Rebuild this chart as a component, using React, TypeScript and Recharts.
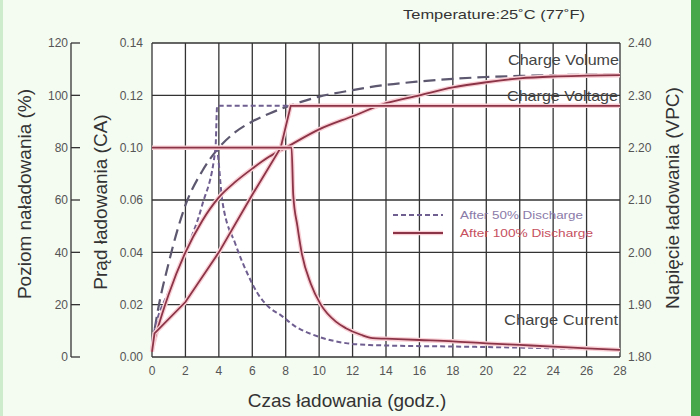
import React from "react";
import { CartesianGrid, ComposedChart, Line, XAxis, YAxis } from "recharts";

const FONT = '"Liberation Sans", Arial, sans-serif';

// axis ticks
const HOUR_TICKS = [0, 2, 4, 6, 8, 10, 12, 14, 16, 18, 20, 22, 24, 26, 28];
const PCT_TICKS = [0, 20, 40, 60, 80, 100, 120];
const CA_TICKS = [0, 0.02, 0.04, 0.06, 0.08, 0.1, 0.12];
const CA_TICK_LABELS = ["0.00", "0.02", "0.04", "0.06", "0.10", "0.12", "0.14"];
const VPC_TICKS = [1.8, 1.9, 2.0, 2.1, 2.2, 2.3, 2.4];

// charge volume (%)
const VOL_HOURS = [0, 0.3, 1, 2, 3, 4, 5, 6, 7, 8, 10, 12, 14, 16, 18, 20, 22, 24, 26, 28];
const VOL_50 = [4, 16, 36, 58, 71, 80, 86, 90, 93, 95.5, 99.5, 102, 104, 105.3, 106.3, 107, 107.4, 107.7, 107.9, 108];
const VOL_100 = [3, 10, 24, 40, 52, 61, 67, 72, 76.5, 80, 87, 92, 97, 100, 103, 105, 106.5, 107.2, 107.5, 107.7];

// charge voltage (V/cell)
const VOLT_50_HOURS = [0, 0.3, 1, 2, 3, 3.8, 3.9, 28];
const VOLT_50 = [1.83, 1.87, 1.925, 2.0, 2.09, 2.2, 2.28, 2.28];
const VOLT_100_HOURS = [0, 0.15, 2, 4, 6, 7.7, 8.3, 28];
const VOLT_100 = [1.81, 1.845, 1.905, 2.0, 2.11, 2.2, 2.28, 2.28];

// charge current (CA)
const CUR_50_HOURS = [0, 3.85, 4.2, 5, 5.7, 6.35, 7, 7.7, 8.5, 10, 11.6, 13, 14, 18, 22, 25, 28];
const CUR_50 = [0.08, 0.08, 0.06, 0.043, 0.032, 0.024, 0.019, 0.016, 0.012, 0.0077, 0.0053, 0.0046, 0.0044, 0.004, 0.0036, 0.0032, 0.0028];
const CUR_100_HOURS = [0, 8.35, 8.45, 8.7, 8.95, 9.5, 10.1, 11, 11.6, 12.5, 13.2, 14, 16, 18, 20, 22, 24, 26, 28];
const CUR_100 = [0.08, 0.08, 0.062, 0.05, 0.04, 0.028, 0.02, 0.0135, 0.011, 0.0085, 0.0072, 0.007, 0.0065, 0.006, 0.0052, 0.0046, 0.004, 0.0033, 0.0027];

const rows = (hours: number[], values: number[]) => hours.map((t, i) => ({ t, v: values[i] }));

const RED = "#8c3447";
const HALO = "#f9d0d6";
const PURPLE = "#6f5e90";
const GREY = "#5d5870";

const tickStyle = { fill: "#555", fontSize: 12, fontFamily: FONT };

function PctTick(props: any) {
  const { x, y, payload } = props;
  return (
    <g>
      <text x={x} y={y} dy="0.35em" textAnchor="end" {...tickStyle}>
        {payload.value}
      </text>
      <line x1={x + 3} x2={x + 12} y1={y} y2={y} stroke="#333" strokeWidth={1.3} />
    </g>
  );
}

function RotTitle({ x, y, text }: { x: number; y: number; text: string }) {
  return (
    <text
      x={x}
      y={y}
      transform={`rotate(-90 ${x} ${y})`}
      textAnchor="middle"
      dominantBaseline="central"
      fontSize={19}
      fill="#333"
      fontFamily={FONT}
    >
      {text}
    </text>
  );
}

export default function App() {
  const solid = (data: any[], axis: string, curve: "monotone" | "linear" = "monotone") => [
    <Line key={axis + "h"} data={data} dataKey="v" yAxisId={axis} type={curve} stroke={HALO} strokeWidth={4.5} dot={false} isAnimationActive={false} />,
    <Line key={axis + "s"} data={data} dataKey="v" yAxisId={axis} type={curve} stroke={RED} strokeWidth={1.8} dot={false} isAnimationActive={false} />,
  ];

  return (
    <div
      style={{
        position: "fixed",
        left: 0,
        top: 0,
        width: 700,
        height: 416,
        background: "#f4fbf1",
        overflow: "hidden",
        fontFamily: FONT,
      }}
    >
      <ComposedChart
        width={700}
        height={416}
        margin={{ top: 43, right: 0, bottom: 0, left: 0 }}
        style={{ position: "absolute", left: 0, top: 0 }}
      >
        <CartesianGrid yAxisId="pct" stroke="#333" strokeWidth={1.3} fill="#fff" fillOpacity={1} />
        <XAxis
          type="number"
          dataKey="t"
          domain={[0, 28]}
          ticks={HOUR_TICKS}
          height={59}
          axisLine={false}
          tickLine={false}
          tickSize={0}
          tickMargin={9}
          tick={tickStyle}
        />
        <YAxis
          yAxisId="ca"
          width={81}
          domain={[0, 0.12]}
          ticks={CA_TICKS}
          tickFormatter={(_v: number, i: number) => CA_TICK_LABELS[i]}
          axisLine={false}
          tickLine={false}
          tickSize={0}
          tickMargin={9}
          tick={tickStyle}
        />
        <YAxis
          yAxisId="pct"
          width={71}
          domain={[0, 120]}
          ticks={PCT_TICKS}
          axisLine={{ stroke: "#333", strokeWidth: 1.3 }}
          tickLine={false}
          tickSize={0}
          tickMargin={3}
          tick={<PctTick />}
        />
        <YAxis
          yAxisId="v"
          orientation="right"
          width={80}
          domain={[1.8, 2.4]}
          ticks={VPC_TICKS}
          tickFormatter={(v: number) => v.toFixed(2)}
          axisLine={false}
          tickLine={false}
          tickSize={0}
          tickMargin={8}
          tick={tickStyle}
        />

        {/* 50% discharge */}
        <Line data={rows(VOL_HOURS, VOL_50)} dataKey="v" yAxisId="pct" type="monotone" stroke={GREY} strokeWidth={2.2} strokeDasharray="12 6" dot={false} isAnimationActive={false} />
        <Line data={rows(VOLT_50_HOURS, VOLT_50)} dataKey="v" yAxisId="v" type="monotone" stroke={PURPLE} strokeWidth={2} strokeDasharray="5 3" dot={false} isAnimationActive={false} />
        <Line data={rows(CUR_50_HOURS, CUR_50)} dataKey="v" yAxisId="ca" type="monotone" stroke={PURPLE} strokeWidth={2} strokeDasharray="5 3" dot={false} isAnimationActive={false} />

        {/* 100% discharge */}
        {solid(rows(VOL_HOURS, VOL_100), "pct")}
        {solid(rows(VOLT_100_HOURS, VOLT_100), "v", "linear")}
        {solid(rows(CUR_100_HOURS, CUR_100), "ca")}
      </ComposedChart>

      <svg width={700} height={416} style={{ position: "absolute", left: 0, top: 0, pointerEvents: "none" }}>
        <text x={403} y={19} fontSize={13} fill="#333" textLength={182} lengthAdjust="spacingAndGlyphs">
          Temperature:25˚C (77˚F)
        </text>
        <text x={508} y={65} fontSize={15} fill="#444" textLength={111} lengthAdjust="spacingAndGlyphs">
          Charge Volume
        </text>
        <text x={507} y={101} fontSize={15} fill="#444" textLength={111} lengthAdjust="spacingAndGlyphs">
          Charge Voltage
        </text>
        <text x={504} y={325} fontSize={15} fill="#444" textLength={114} lengthAdjust="spacingAndGlyphs">
          Charge Current
        </text>

        {/* legend */}
        <line x1={393} x2={443} y1={215} y2={215} stroke={PURPLE} strokeWidth={2} strokeDasharray="5 3" />
        <line x1={393} x2={443} y1={233} y2={233} stroke={HALO} strokeWidth={4.5} />
        <line x1={393} x2={443} y1={233} y2={233} stroke={RED} strokeWidth={1.8} />
        <text x={460} y={219} fontSize={11} fill="#8a7aa8" textLength={123} lengthAdjust="spacingAndGlyphs">
          After 50% Discharge
        </text>
        <text x={460} y={237} fontSize={11} fill="#c6505e" textLength={133} lengthAdjust="spacingAndGlyphs">
          After 100% Discharge
        </text>

        <RotTitle x={24} y={194} text="Poziom naładowania (%)" />
        <RotTitle x={100} y={202} text="Prąd ładowania (CA)" />
        <RotTitle x={672} y={198} text="Napięcie ładowania (VPC)" />
        <text x={347} y={407} textAnchor="middle" fontSize={19} fill="#333">
          Czas ładowania (godz.)
        </text>
      </svg>

      <div style={{ position: "absolute", left: 0, top: 0, width: 3, height: 416, background: "#cdeccb" }} />
      <div style={{ position: "absolute", left: 691, top: 0, width: 9, height: 416, background: "#46a84b" }} />
    </div>
  );
}
